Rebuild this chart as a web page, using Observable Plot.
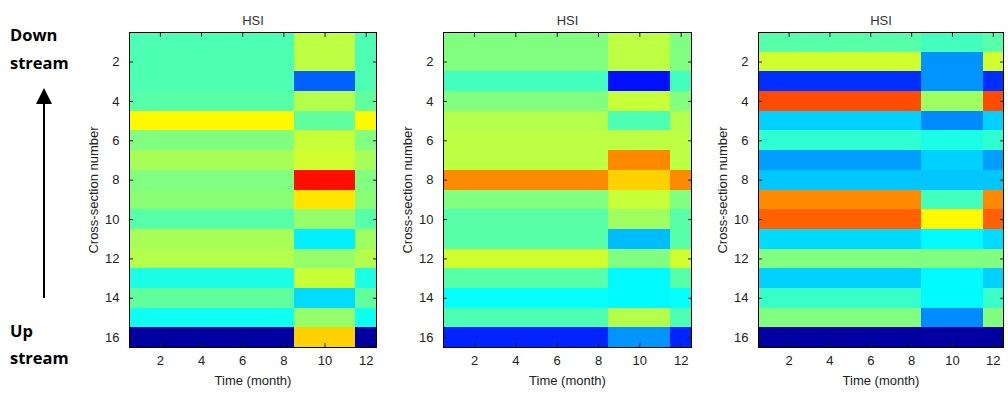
<!DOCTYPE html>
<html>
<head>
<meta charset="utf-8">
<script src="https://cdn.jsdelivr.net/npm/d3@7"></script>
<script src="https://cdn.jsdelivr.net/npm/@observablehq/plot@0.6"></script>
<style>
  html, body { margin: 0; padding: 0; background: #fff; }
  #wrap { position: relative; width: 1008px; height: 397px; overflow: hidden; font-family: "Liberation Sans", Arial, sans-serif; }
  .panel { position: absolute; top: 0; }
  .note { position: absolute; left: 10px; font-family: "Open Sans", "Lato", sans-serif; font-weight: bold; font-size: 16.5px; color: #000; line-height: 1; }
</style>
</head>
<body>
<div id="wrap">
  <div class="note" style="top:27px">Down</div>
  <div class="note" style="top:55px">stream</div>
  <div class="note" style="top:323px">Up</div>
  <div class="note" style="top:350px">stream</div>
  <svg style="position:absolute;left:0;top:0" width="80" height="397">
    <line x1="44" y1="298" x2="44" y2="100" stroke="#000" stroke-width="2"></line>
    <path d="M44,88 L52,104 L36,104 Z" fill="#000"></path>
  </svg>
</div>
<script>
// Months and cross-sections
const months = [1,2,3,4,5,6,7,8,9,10,11,12];
const sections = [1,2,3,4,5,6,7,8,9,10,11,12,13,14,15,16];
const xTicks = [2,4,6,8,10,12];
const yTicks = [2,4,6,8,10,12,14,16];

// HSI values (0..1) per cross-section: months Jan-Aug, Sep-Nov, Dec
const p1JanAug = [0.45,0.45,0.45,0.46,0.63,0.50,0.54,0.50,0.51,0.46,0.54,0.55,0.40,0.47,0.39,0.02];
const p1SepNov = [0.56,0.56,0.22,0.55,0.47,0.57,0.58,0.86,0.65,0.52,0.36,0.52,0.57,0.34,0.52,0.67];
const p1Dec    = [0.45,0.45,0.45,0.47,0.63,0.50,0.54,0.50,0.51,0.46,0.53,0.55,0.40,0.47,0.39,0.02];

const p2JanAug = [0.50,0.50,0.44,0.50,0.55,0.56,0.56,0.74,0.50,0.46,0.46,0.58,0.46,0.38,0.45,0.16];
const p2SepNov = [0.56,0.56,0.14,0.57,0.45,0.56,0.74,0.67,0.57,0.53,0.31,0.50,0.37,0.37,0.55,0.27];
const p2Dec    = [0.50,0.50,0.44,0.50,0.55,0.56,0.56,0.74,0.50,0.46,0.46,0.58,0.46,0.38,0.45,0.16];

const p3JanAug = [0.46,0.58,0.17,0.80,0.33,0.42,0.28,0.32,0.74,0.78,0.34,0.50,0.33,0.43,0.50,0.02];
const p3SepNov = [0.44,0.27,0.27,0.53,0.26,0.40,0.33,0.32,0.44,0.63,0.37,0.50,0.37,0.37,0.26,0.02];
const p3Dec    = [0.46,0.58,0.17,0.80,0.33,0.42,0.28,0.32,0.74,0.78,0.34,0.50,0.33,0.43,0.50,0.02];

const panels = [
  {left: 80,  width: 305, ml: 49, mr: 9, a: p1JanAug, b: p1SepNov, c: p1Dec},
  {left: 390, width: 310, ml: 53, mr: 9, a: p2JanAug, b: p2SepNov, c: p2Dec},
  {left: 700, width: 308, ml: 58, mr: 5, a: p3JanAug, b: p3SepNov, c: p3Dec}
];

function table(p) {
  const rows = [];
  sections.forEach((s, i) => {
    months.forEach(m => {
      const v = m <= 8 ? p.a[i] : (m <= 11 ? p.b[i] : p.c[i]);
      rows.push({month: m, section: s, hsi: v});
    });
  });
  return rows;
}

const jet = {
  type: "linear",
  domain: [0, 0.125, 0.375, 0.625, 0.875, 1],
  range: ["#00008f", "#0000ff", "#00ffff", "#ffff00", "#ff0000", "#800000"]
};

const wrap = document.getElementById("wrap");
panels.forEach(p => {
  const chart = Plot.plot({
    width: p.width,
    height: 397,
    marginLeft: p.ml,
    marginRight: p.mr,
    marginTop: 32,
    marginBottom: 50,
    style: {fontFamily: "Liberation Sans, Arial, sans-serif", fontSize: "13px", background: "transparent", color: "#222"},
    x: {type: "band", domain: months, padding: 0, round: false},
    y: {type: "band", domain: sections, padding: 0, round: false},
    color: jet,
    marks: [
      Plot.cell(table(p), {x: "month", y: "section", fill: "hsi", shapeRendering: "crispEdges"}),
      Plot.axisX({anchor: "bottom", ticks: xTicks, tickSize: -4, tickPadding: 12, label: "Time (month)", labelAnchor: "center", labelOffset: 37, fontSize: 13}),
      Plot.axisX({anchor: "top", ticks: xTicks, tickSize: -4, tickFormat: () => "", label: null}),
      Plot.axisY({anchor: "left", ticks: yTicks, tickSize: -4, tickPadding: 14, label: "Cross-section number", labelAnchor: "center", labelOffset: 41, fontSize: 13}),
      Plot.axisY({anchor: "right", ticks: yTicks, tickSize: -4, tickFormat: () => "", label: null}),
      Plot.frame({stroke: "#000", strokeWidth: 1}),
      Plot.text(["HSI"], {frameAnchor: "top", dy: -17, fontSize: 13, fill: "#333"})
    ]
  });
  chart.classList.add("panel");
  chart.style.left = p.left + "px";
  wrap.appendChild(chart);
});
</script>
</body>
</html>
